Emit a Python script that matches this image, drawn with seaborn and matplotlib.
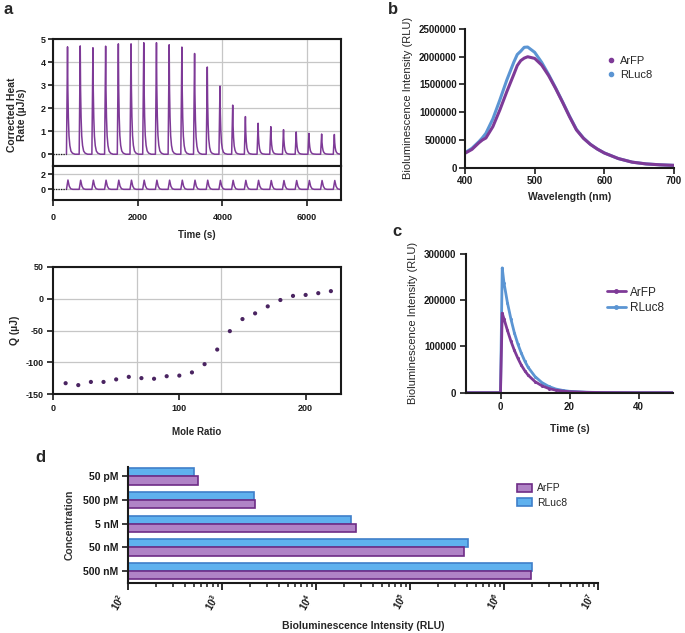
import numpy as np
import pandas as pd
import matplotlib
matplotlib.use('Agg')
import matplotlib.pyplot as plt
import matplotlib.ticker as mticker
from matplotlib.lines import Line2D
from matplotlib.patches import Patch
import seaborn as sns

sns.set_theme(style='white')
plt.rcParams['font.family'] = ['Liberation Sans', 'DejaVu Sans']
plt.rcParams['mathtext.fontset'] = 'custom'
plt.rcParams['mathtext.rm'] = 'Liberation Sans'
plt.rcParams['mathtext.bf'] = 'Liberation Sans:bold'
plt.rcParams['axes.unicode_minus'] = False

# ---------------- data ----------------
# panel a (thermogram)
inj_times = [318, 618, 918, 1218, 1518, 1818, 2118, 2418, 2718, 3018, 3318,
             3618, 3918, 4218, 4518, 4818, 5118, 5418, 5718, 6018, 6318, 6618]
corr_heights = [4.68, 4.72, 4.64, 4.71, 4.81, 4.81, 4.86, 4.86, 4.77, 4.67, 4.39,
                3.80, 2.97, 2.14, 1.64, 1.35, 1.20, 1.07, 0.97, 0.91, 0.88, 0.86]
raw_heights = [1.22, 1.20, 1.20, 1.20, 1.20, 1.20, 1.20, 1.20, 1.20, 1.20, 1.20,
               1.20, 1.18, 1.18, 1.18, 1.18, 1.16, 1.16, 1.16, 1.16, 1.16, 1.16]
peak_offsets = [0, 25, 33, 45, 60, 80, 105, 140, 200, 300]
peak_profile = [0.0, 1.0, 0.6, 0.34, 0.17, 0.08, 0.03, 0.01, 0.0, 0.0]
raw_offsets = [0, 35, 65, 100, 150, 300]
raw_profile = [0.0, 1.0, 0.35, 0.06, 0.0, 0.0]

# panel a (isotherm)
mole_ratio = [10, 20, 30, 40, 50, 60, 70, 80, 90, 100, 110,
              120, 130, 140, 150, 160, 170, 180, 190, 200, 210, 220]
q_values = [-133, -136, -131, -131, -127, -123, -125, -126, -122, -121, -116,
            -103, -80, -51, -32, -23, -12, -2, 4.5, 6, 8.8, 12]

# panel b (emission spectra)
wavelength = [400, 410, 420, 425, 430, 440, 450, 460, 470, 475, 480, 485, 490,
              500, 510, 520, 530, 540, 550, 560, 570, 580, 590, 600, 620, 640,
              660, 680, 700]
spec_arfp = [260000, 330000, 450000, 500000, 535000, 740000, 1040000, 1370000,
             1680000, 1840000, 1930000, 1975000, 2000000, 1970000, 1850000,
             1660000, 1430000, 1180000, 920000, 680000, 530000, 420000, 335000,
             265000, 165000, 100000, 68000, 52000, 42000]
spec_rluc8 = [270000, 350000, 470000, 540000, 620000, 880000, 1220000, 1580000,
              1900000, 2040000, 2100000, 2170000, 2175000, 2080000, 1900000,
              1680000, 1440000, 1190000, 930000, 690000, 535000, 422000, 336000,
              266000, 165000, 100000, 68000, 52000, 42000]

# panel c (kinetics)
kin_time = [-10, 0, 0.5, 1, 2, 3, 4, 5, 6, 7, 8, 10, 12, 14, 16, 18, 20, 25,
            30, 40, 50]
kin_arfp = [0, 0, 172000, 160000, 135000, 112000, 92000, 75000, 60000, 48000,
            38000, 24000, 15000, 9000, 5500, 3500, 2200, 800, 300, 0, 0]
kin_rluc8 = [0, 0, 270000, 238000, 195000, 160000, 130000, 106000, 86000,
             69000, 55000, 35000, 22000, 13500, 8000, 5000, 3000, 1000, 300, 0, 0]

# panel d (concentration series)
concentrations = ['50 pM', '500 pM', '5 nM', '50 nM', '500 nM']
conc_arfp = [550, 2240, 26800, 378000, 1920000]
conc_rluc8 = [500, 2170, 23600, 413000, 1970000]

# ---------------- styling ----------------
PURPLE = '#7E3A97'
DARKPURPLE = '#4A2461'
BLUE = '#5B95D3'
D_PURPLE_FACE = '#B083C6'
D_PURPLE_EDGE = '#6E2C86'
D_BLUE_FACE = '#5FB1EE'
D_BLUE_EDGE = '#3F7FC9'
GRID = '#C6C6C6'
TICK_FS = 6.5
LAB_FS = 7

W, H = 685, 633
fig = plt.figure(figsize=(W / 100, H / 100), dpi=100)


def R(l, t, r, b):
    return [l / W, 1 - b / H, (r - l) / W, (b - t) / H]


def bold_ticks(ax, size=TICK_FS):
    for lab in ax.get_xticklabels() + ax.get_yticklabels():
        lab.set_fontweight('bold')
        lab.set_fontsize(size)


def build_trace(times, heights, offsets, profile):
    t_all, y_all = [], []
    for t0, h in zip(times, heights):
        for dt, f in zip(offsets, profile):
            t_all.append(t0 + dt)
            y_all.append(h * f)
    return pd.DataFrame({'t': t_all, 'y': y_all})


# ---------------- panel a: thermogram ----------------
ax_top = fig.add_axes(R(53, 39.5, 341, 165.7))
ax_bot = fig.add_axes(R(53, 165.7, 341, 200), sharex=ax_top)

top_df = build_trace(inj_times, corr_heights, peak_offsets, peak_profile)
bot_df = build_trace(inj_times, raw_heights, raw_offsets, raw_profile)
sns.lineplot(data=top_df, x='t', y='y', ax=ax_top, color=PURPLE, lw=1.1,
             sort=False, estimator=None)
sns.lineplot(data=bot_df, x='t', y='y', ax=ax_bot, color=PURPLE, lw=1.1,
             sort=False, estimator=None)
for ax in (ax_top, ax_bot):
    ax.hlines(0, 0, inj_times[0], colors='k', linestyles=(0, (1, 1)), lw=0.9)

ax_top.set_xlim(0, 6800)
ax_top.set_ylim(-0.5, 5)
ax_top.set_yticks([0, 1, 2, 3, 4, 5])
ax_bot.set_ylim(-1.4, 3.1)
ax_bot.set_yticks([0, 2])
ax_bot.set_xticks([0, 2000, 4000, 6000])
for ax in (ax_top, ax_bot):
    ax.grid(True, color=GRID, lw=0.9)
    ax.set_axisbelow(True)
    for s in ax.spines.values():
        s.set_color('k')
        s.set_linewidth(1.5)
    ax.tick_params(axis='y', direction='out', length=3.5, width=1.2, pad=2,
                   left=True, colors='k')
    ax.set_xlabel('')
    ax.set_ylabel('')
ax_top.tick_params(axis='x', bottom=False, labelbottom=False)
ax_bot.tick_params(axis='x', direction='out', length=4, width=1.2, pad=5,
                   bottom=True, colors='k')
bold_ticks(ax_top)
bold_ticks(ax_bot)
ax_bot.set_xlabel('Time (s)', fontsize=LAB_FS, fontweight='bold', labelpad=6)
fig.text(17 / W, 1 - 115 / H, 'Corrected Heat\nRate (µJ/s)', rotation=90,
         ha='center', va='center', fontsize=LAB_FS + 0.5, fontweight='bold',
         linespacing=1.1)

# ---------------- panel a: isotherm ----------------
ax_q = fig.add_axes(R(53, 267, 341, 394))
sns.scatterplot(x=mole_ratio, y=q_values, ax=ax_q, color=DARKPURPLE, s=9,
                marker='o', edgecolor='none')
ax_q.set_xlim(0, 228)
ax_q.set_ylim(-150, 50)
ax_q.set_xticks([0, 100, 200])
ax_q.set_xticks([200 / 3, 400 / 3, 200], minor=True)
ax_q.set_yticks([50, 0, -50, -100, -150])
ax_q.grid(True, which='minor', axis='x', color=GRID, lw=0.9)
ax_q.grid(True, which='major', axis='y', color=GRID, lw=0.9)
ax_q.set_axisbelow(True)
for s in ax_q.spines.values():
    s.set_color('k')
    s.set_linewidth(1.5)
ax_q.tick_params(axis='both', which='major', direction='out', length=4,
                 width=1.2, pad=3, left=True, bottom=True, colors='k')
ax_q.tick_params(axis='x', which='minor', length=0)
bold_ticks(ax_q)
ax_q.set_xlabel('Mole Ratio', fontsize=LAB_FS, fontweight='bold', labelpad=10)
ax_q.set_ylabel('Q (µJ)', fontsize=LAB_FS + 0.5, fontweight='bold', labelpad=4)

# ---------------- panel b ----------------
ax_b = fig.add_axes(R(465, 29, 674, 167.7))
spec_df = pd.DataFrame({
    'Wavelength': wavelength * 2,
    'Intensity': spec_arfp + spec_rluc8,
    'Protein': ['ArFP'] * len(wavelength) + ['RLuc8'] * len(wavelength),
})
sns.lineplot(data=spec_df[spec_df.Protein == 'RLuc8'], x='Wavelength',
             y='Intensity', ax=ax_b, color=BLUE, lw=2.2, legend=False)
sns.lineplot(data=spec_df[spec_df.Protein == 'ArFP'], x='Wavelength',
             y='Intensity', ax=ax_b, color=PURPLE, lw=2.2, legend=False)
ax_b.set_xlim(400, 700)
ax_b.set_ylim(0, 2500000)
ax_b.set_xticks([400, 500, 600, 700])
ax_b.set_yticks([0, 500000, 1000000, 1500000, 2000000, 2500000])
ax_b.yaxis.set_major_formatter(mticker.FuncFormatter(lambda v, p: f'{int(v)}'))
sns.despine(ax=ax_b)
for s in ('left', 'bottom'):
    ax_b.spines[s].set_color('k')
    ax_b.spines[s].set_linewidth(1.5)
ax_b.tick_params(direction='out', length=4, width=1.2, pad=2, left=True,
                 bottom=True, colors='k')
bold_ticks(ax_b, 7)
ax_b.set_xlabel('Wavelength (nm)', fontsize=LAB_FS + 0.5, fontweight='bold',
                labelpad=4)
ax_b.set_ylabel('Bioluminescence Intensity (RLU)', fontsize=8, labelpad=4)
ax_b.legend(
    handles=[Line2D([], [], marker='o', ls='none', color=PURPLE, markersize=3),
             Line2D([], [], marker='o', ls='none', color=BLUE, markersize=3)],
    labels=['ArFP', 'RLuc8'], frameon=False, fontsize=8, handlelength=0.6,
    handletextpad=0.5, labelspacing=0.35, loc='upper left',
    bbox_to_anchor=((598 - 465) / 209, 1 - (46 - 29) / 138.7))

# ---------------- panel c ----------------
ax_c = fig.add_axes(R(466, 254, 673, 392.7))
kin_df = pd.DataFrame({
    'Time': kin_time * 2,
    'Intensity': kin_rluc8 + kin_arfp,
    'Protein': ['RLuc8'] * len(kin_time) + ['ArFP'] * len(kin_time),
})
sns.lineplot(data=kin_df[kin_df.Protein == 'RLuc8'], x='Time', y='Intensity',
             ax=ax_c, color=BLUE, lw=2, marker='o', markersize=2.2,
             markeredgewidth=0, legend=False)
sns.lineplot(data=kin_df[kin_df.Protein == 'ArFP'], x='Time', y='Intensity',
             ax=ax_c, color=PURPLE, lw=2, marker='o', markersize=2.2,
             markeredgewidth=0, legend=False)
ax_c.set_xlim(-10, 50)
ax_c.set_ylim(0, 300000)
ax_c.set_xticks([0, 20, 40])
ax_c.set_yticks([0, 100000, 200000, 300000])
ax_c.yaxis.set_major_formatter(mticker.FuncFormatter(lambda v, p: f'{int(v)}'))
sns.despine(ax=ax_c)
for s in ('left', 'bottom'):
    ax_c.spines[s].set_color('k')
    ax_c.spines[s].set_linewidth(1.5)
ax_c.tick_params(direction='out', length=4, width=1.2, pad=3, left=True,
                 bottom=True, colors='k')
bold_ticks(ax_c, 7)
ax_c.set_xlabel('Time (s)', fontsize=LAB_FS + 0.5, fontweight='bold',
                labelpad=8)
ax_c.set_ylabel('Bioluminescence Intensity (RLU)', fontsize=8, labelpad=4)
ax_c.legend(
    handles=[Line2D([], [], marker='o', color=PURPLE, lw=2, markersize=2.5),
             Line2D([], [], marker='o', color=BLUE, lw=2, markersize=2.5)],
    labels=['ArFP', 'RLuc8'], frameon=False, fontsize=8.5, handlelength=1.6,
    handletextpad=0.4, labelspacing=0.3, loc='upper left',
    bbox_to_anchor=((596 - 466) / 207, 1 - (276 - 254) / 138.7))

# ---------------- panel d ----------------
ax_d = fig.add_axes(R(128, 467, 598, 583))
bar_df = pd.DataFrame({
    'Concentration': concentrations * 2,
    'Intensity': conc_rluc8 + conc_arfp,
    'Protein': ['RLuc8'] * len(concentrations) + ['ArFP'] * len(concentrations),
})
sns.barplot(data=bar_df, x='Intensity', y='Concentration', hue='Protein',
            hue_order=['RLuc8', 'ArFP'], order=concentrations,
            palette={'RLuc8': D_BLUE_FACE, 'ArFP': D_PURPLE_FACE},
            orient='h', width=0.7, ax=ax_d, legend=False,
            linewidth=1.2, saturation=1)
for cont, ec in zip(ax_d.containers, [D_BLUE_EDGE, D_PURPLE_EDGE]):
    for bar in cont:
        bar.set_edgecolor(ec)
ax_d.set_xscale('log')
ax_d.set_xlim(1e2, 1e7)
ax_d.set_ylim(4.5, -0.4)
ax_d.xaxis.set_major_locator(mticker.LogLocator(base=10, numticks=10))
ax_d.xaxis.set_minor_locator(mticker.LogLocator(base=10, subs=np.arange(2, 10),
                                                numticks=20))
ax_d.xaxis.set_minor_formatter(mticker.NullFormatter())
ax_d.xaxis.set_major_formatter(mticker.FuncFormatter(
    lambda v, p: r'$\mathbf{10^{%d}}$' % round(np.log10(v))))
sns.despine(ax=ax_d)
for s in ('left', 'bottom'):
    ax_d.spines[s].set_color('k')
    ax_d.spines[s].set_linewidth(1.5)
ax_d.tick_params(axis='x', which='major', direction='out', length=5, width=1.3,
                 bottom=True, colors='k', pad=1)
ax_d.tick_params(axis='x', which='minor', direction='out', length=3, width=1.1,
                 bottom=True, colors='k')
ax_d.tick_params(axis='y', direction='out', length=4, width=1.2, left=True,
                 colors='k', pad=3)
for lab in ax_d.get_xticklabels():
    lab.set_rotation(60)
    lab.set_ha('right')
    lab.set_va('top')
    lab.set_fontsize(7)
for lab in ax_d.get_yticklabels():
    lab.set_fontweight('bold')
    lab.set_fontsize(7.5)
ax_d.set_xlabel('Bioluminescence Intensity (RLU)', fontsize=7.5,
                fontweight='bold', labelpad=6)
ax_d.set_ylabel('Concentration', fontsize=7.5, fontweight='bold', labelpad=6,
                color='#333333')
ax_d.legend(
    handles=[Patch(facecolor=D_PURPLE_FACE, edgecolor=D_PURPLE_EDGE, lw=1.2),
             Patch(facecolor=D_BLUE_FACE, edgecolor=D_BLUE_EDGE, lw=1.2)],
    labels=['ArFP', 'RLuc8'], frameon=False, fontsize=7.5, handlelength=1.4,
    handleheight=0.8, handletextpad=0.5, labelspacing=0.4, loc='upper left',
    bbox_to_anchor=((508 - 128) / 470, 1 - (474 - 467) / 116))

# ---------------- panel letters ----------------
for txt, x, y in [('a', 8, 10), ('b', 393, 9), ('c', 397, 232), ('d', 40, 458)]:
    fig.text(x / W, 1 - y / H, txt, fontsize=12, fontweight='bold',
             ha='center', va='center')

fig.savefig('out.png', dpi=100)
